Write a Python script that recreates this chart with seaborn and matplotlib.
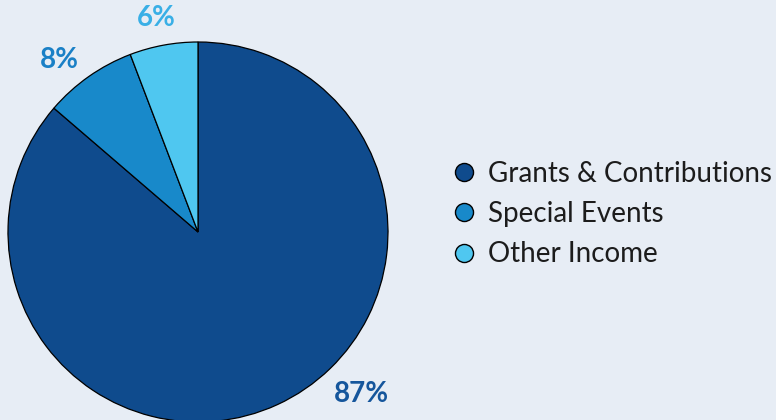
import matplotlib
matplotlib.use('Agg')
import matplotlib.pyplot as plt
from matplotlib.lines import Line2D
import seaborn as sns

# data
categories = ['Grants & Contributions', 'Special Events', 'Other Income']
shares = [86.3, 7.9, 5.8]
pct_labels = ['87%', '8%', '6%']

colors = ['#0f4b8d', '#1889ca', '#4fc7f0']
label_colors = ['#15569c', '#1a80c6', '#39afe6']
label_pos = [(361, 394), (59, 60), (156, 18)]  # pixel positions (x, y from top)
bg = '#e7edf5'

sns.set_theme(style='white')
plt.rcParams['font.family'] = ['Lato', 'DejaVu Sans']

W, H = 776, 420
fig = plt.figure(figsize=(W / 100, H / 100), dpi=100, facecolor=bg)
ax = fig.add_axes([0, 0, 1, 1])
ax.set_facecolor(bg)

wedges, _ = ax.pie(shares, colors=colors, startangle=90, counterclock=False,
                   center=(198, H - 232), radius=190,
                   wedgeprops=dict(edgecolor='black', linewidth=0.9))
ax.set_xlim(0, W)
ax.set_ylim(0, H)
ax.set_aspect('equal')
ax.axis('off')

for txt, (x, y), c in zip(pct_labels, label_pos, label_colors):
    ax.text(x, H - y, txt, ha='center', va='center', fontsize=20,
            fontweight='bold', color=c)

handles = [Line2D([], [], marker='o', linestyle='none', markersize=13,
                  markerfacecolor=c, markeredgecolor='black', markeredgewidth=1.0)
           for c in colors]
leg = fig.legend(handles, categories, loc='center left',
                 bbox_to_anchor=(451 / W, (H - 214) / H), frameon=False,
                 fontsize=20, borderpad=0, borderaxespad=0, handlelength=0.9,
                 handletextpad=0.42, labelspacing=0.52)
for t in leg.get_texts():
    t.set_color('#1c1c1c')

fig.savefig('out.png', dpi=100, facecolor=bg)
